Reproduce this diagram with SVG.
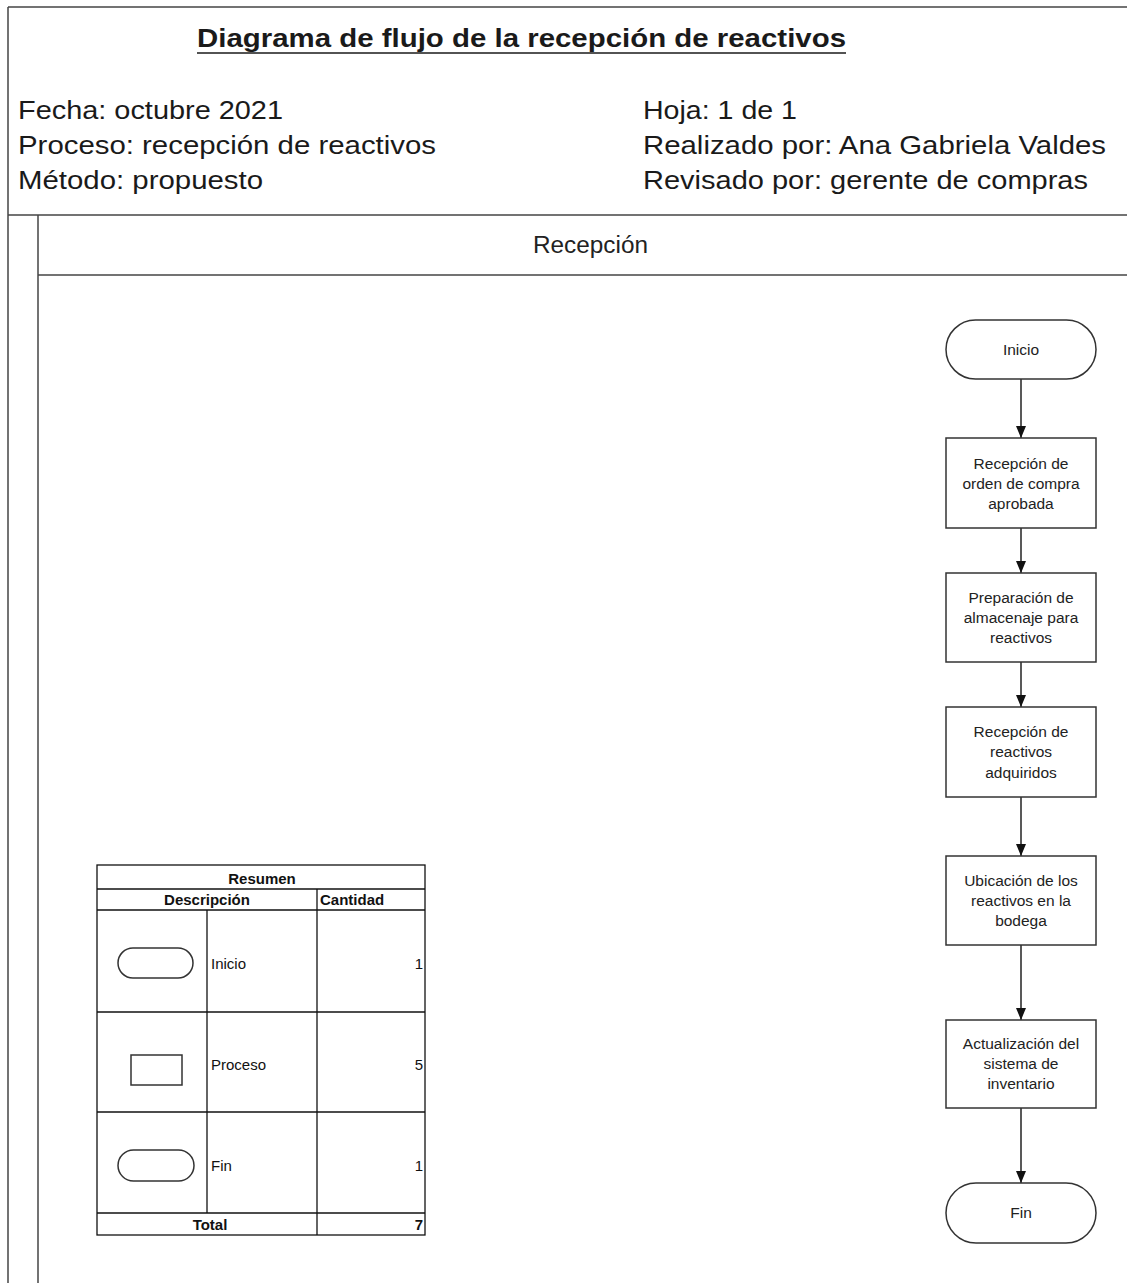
<svg xmlns="http://www.w3.org/2000/svg" width="1127" height="1283" viewBox="0 0 1127 1283">
  <defs>
    <style>
      .frame { stroke: #444; stroke-width: 1.5; fill: none; }
      .shape { fill: #fff; stroke: #333; stroke-width: 1.5; }
      .edge { stroke: #222; stroke-width: 1.5; fill: none; }
      .hdr { font-family: "Liberation Sans", Arial, sans-serif; font-size: 26px; fill: #1a1a1a; }
      .title { font-family: "Liberation Sans", Arial, sans-serif; font-size: 26px; font-weight: bold; fill: #1a1a1a; }
      .lane { font-family: "Liberation Sans", Arial, sans-serif; font-size: 23px; fill: #222; }
      .lbl { font-family: "Liberation Sans", Arial, sans-serif; font-size: 15.5px; fill: #222; text-anchor: middle; }
      .tb { font-family: "Liberation Sans", Arial, sans-serif; font-size: 15px; fill: #111; }
      .tbb { font-family: "Liberation Sans", Arial, sans-serif; font-size: 15px; font-weight: bold; fill: #111; }
      .grid { stroke: #111; stroke-width: 1.3; fill: none; }
    </style>
    <marker id="arrow" markerWidth="12" markerHeight="10" refX="12" refY="5" orient="auto" markerUnits="userSpaceOnUse">
      <path d="M0,0 L12,5 L0,10 z" fill="#111"/>
    </marker>
  </defs>

  <rect width="1127" height="1283" fill="#fff"/>

  <!-- page frame and swimlane -->
  <g id="frame">
    <line class="frame" x1="8" y1="7" x2="1127" y2="7"/>
    <line class="frame" x1="8" y1="7" x2="8" y2="1283"/>
    <line class="frame" x1="8" y1="215" x2="1127" y2="215"/>
    <line class="frame" x1="38" y1="215" x2="38" y2="1283"/>
    <line class="frame" x1="38" y1="275" x2="1127" y2="275"/>
  </g>

  <!-- header block -->
  <g id="header">
    <text class="title" x="197" y="47" textLength="649" lengthAdjust="spacingAndGlyphs">Diagrama de flujo de la recepción de reactivos</text>
    <line x1="197" y1="53" x2="846" y2="53" stroke="#1a1a1a" stroke-width="1.6"/>
    <text class="hdr" x="18" y="119" textLength="265" lengthAdjust="spacingAndGlyphs">Fecha: octubre 2021</text>
    <text class="hdr" x="18" y="154" textLength="418" lengthAdjust="spacingAndGlyphs">Proceso: recepción de reactivos</text>
    <text class="hdr" x="18" y="189" textLength="245" lengthAdjust="spacingAndGlyphs">Método: propuesto</text>
    <text class="hdr" x="643" y="119" textLength="154" lengthAdjust="spacingAndGlyphs">Hoja: 1 de 1</text>
    <text class="hdr" x="643" y="154" textLength="463" lengthAdjust="spacingAndGlyphs">Realizado por: Ana Gabriela Valdes</text>
    <text class="hdr" x="643" y="189" textLength="445" lengthAdjust="spacingAndGlyphs">Revisado por: gerente de compras</text>
  </g>

  <g id="lane-recepcion">
    <text class="lane" x="533" y="253" textLength="115" lengthAdjust="spacingAndGlyphs">Recepción</text>
  </g>

  <!-- connectors -->
  <g id="connectors">
    <line class="edge" x1="1021" y1="379" x2="1021" y2="438" marker-end="url(#arrow)"/>
    <line class="edge" x1="1021" y1="528" x2="1021" y2="573" marker-end="url(#arrow)"/>
    <line class="edge" x1="1021" y1="662" x2="1021" y2="707" marker-end="url(#arrow)"/>
    <line class="edge" x1="1021" y1="797" x2="1021" y2="856" marker-end="url(#arrow)"/>
    <line class="edge" x1="1021" y1="945" x2="1021" y2="1020" marker-end="url(#arrow)"/>
    <line class="edge" x1="1021" y1="1108" x2="1021" y2="1183" marker-end="url(#arrow)"/>
  </g>

  <!-- flow nodes -->
  <g id="inicio">
    <rect class="shape" x="946" y="320" width="150" height="59" rx="29.5" ry="29.5"/>
    <text class="lbl" x="1021" y="355">Inicio</text>
  </g>
  <g id="recepcion-orden">
    <rect class="shape" x="946" y="438" width="150" height="90"/>
    <text class="lbl" x="1021" y="469">Recepción de</text>
    <text class="lbl" x="1021" y="489">orden de compra</text>
    <text class="lbl" x="1021" y="509">aprobada</text>
  </g>
  <g id="preparacion">
    <rect class="shape" x="946" y="573" width="150" height="89"/>
    <text class="lbl" x="1021" y="603">Preparación de</text>
    <text class="lbl" x="1021" y="623">almacenaje para</text>
    <text class="lbl" x="1021" y="643">reactivos</text>
  </g>
  <g id="recepcion-reactivos">
    <rect class="shape" x="946" y="707" width="150" height="90"/>
    <text class="lbl" x="1021" y="737">Recepción de</text>
    <text class="lbl" x="1021" y="757">reactivos</text>
    <text class="lbl" x="1021" y="778">adquiridos</text>
  </g>
  <g id="ubicacion">
    <rect class="shape" x="946" y="856" width="150" height="89"/>
    <text class="lbl" x="1021" y="886">Ubicación de los</text>
    <text class="lbl" x="1021" y="906">reactivos en la</text>
    <text class="lbl" x="1021" y="926">bodega</text>
  </g>
  <g id="actualizacion">
    <rect class="shape" x="946" y="1020" width="150" height="88"/>
    <text class="lbl" x="1021" y="1049">Actualización del</text>
    <text class="lbl" x="1021" y="1069">sistema de</text>
    <text class="lbl" x="1021" y="1089">inventario</text>
  </g>
  <g id="fin">
    <rect class="shape" x="946" y="1183" width="150" height="60" rx="30" ry="30"/>
    <text class="lbl" x="1021" y="1218">Fin</text>
  </g>

  <!-- summary table -->
  <g id="resumen">
    <rect class="grid" x="97" y="865" width="328" height="370"/>
    <line class="grid" x1="97" y1="889" x2="425" y2="889"/>
    <line class="grid" x1="97" y1="910" x2="425" y2="910"/>
    <line class="grid" x1="97" y1="1012" x2="425" y2="1012"/>
    <line class="grid" x1="97" y1="1112" x2="425" y2="1112"/>
    <line class="grid" x1="97" y1="1213" x2="425" y2="1213"/>
    <line class="grid" x1="317" y1="889" x2="317" y2="1235"/>
    <line class="grid" x1="207" y1="910" x2="207" y2="1213"/>

    <text class="tbb" x="262" y="884" text-anchor="middle">Resumen</text>
    <text class="tbb" x="207" y="905" text-anchor="middle">Descripción</text>
    <text class="tbb" x="320" y="905">Cantidad</text>

    <rect class="shape" x="118" y="948" width="75" height="30" rx="15" ry="15"/>
    <text class="tb" x="211" y="969">Inicio</text>
    <text class="tb" x="423" y="969" text-anchor="end">1</text>

    <rect class="shape" x="131" y="1055" width="51" height="30"/>
    <text class="tb" x="211" y="1070">Proceso</text>
    <text class="tb" x="423" y="1070" text-anchor="end">5</text>

    <rect class="shape" x="118" y="1150" width="76" height="31" rx="15.5" ry="15.5"/>
    <text class="tb" x="211" y="1171">Fin</text>
    <text class="tb" x="423" y="1171" text-anchor="end">1</text>

    <text class="tbb" x="210" y="1230" text-anchor="middle">Total</text>
    <text class="tbb" x="423" y="1230" text-anchor="end">7</text>
  </g>
</svg>
